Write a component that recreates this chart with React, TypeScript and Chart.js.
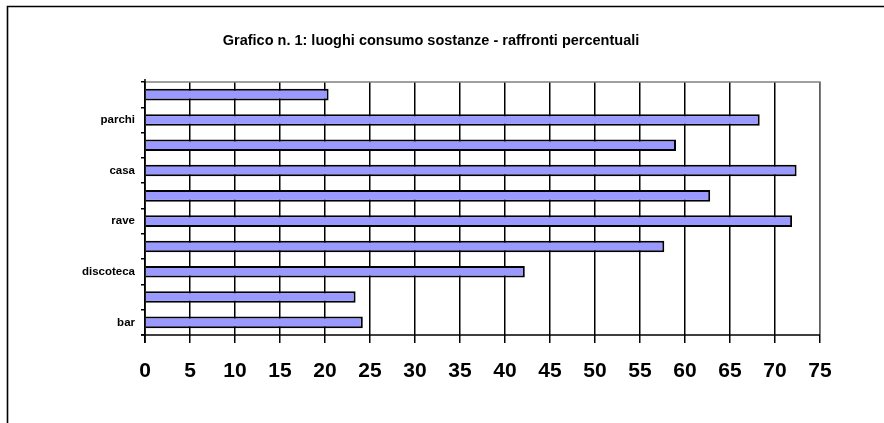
import React, { useEffect, useRef } from "react";
import { Chart, registerables } from "chart.js";

Chart.register(...registerables);

const categories = ["bar", "", "discoteca", "", "rave", "", "casa", "", "parchi", ""];
const values = [24.2, 23.4, 42.2, 57.7, 71.9, 62.8, 72.4, 59.0, 68.3, 20.4];
const titleText = "Grafico n. 1: luoghi consumo sostanze - raffronti percentuali";
const xMin = 0;
const xMax = 75;
const xStep = 5;

const W = 884;
const H = 423;
const PLOT_LEFT = 145;
const PLOT_RIGHT = 820;
const PLOT_TOP = 82;
const PLOT_BOTTOM = 335;

const decor = {
  id: "decor",
  beforeDraw(chart: any) {
    const ctx = chart.ctx;
    ctx.save();
    ctx.fillStyle = "#ffffff";
    ctx.fillRect(0, 0, W, H);
    ctx.strokeStyle = "#000";
    ctx.lineWidth = 1.6;
    ctx.beginPath();
    ctx.moveTo(7.5, H);
    ctx.lineTo(7.5, 6.5);
    ctx.lineTo(W, 6.5);
    ctx.stroke();
    ctx.fillStyle = "#000";
    ctx.font = "bold 14.5px 'Liberation Sans', Arial, sans-serif";
    ctx.textAlign = "center";
    ctx.textBaseline = "middle";
    ctx.fillText(titleText, 431, 41);
    ctx.restore();
  },
  afterDraw(chart: any) {
    const { ctx, chartArea } = chart;
    ctx.save();
    ctx.strokeStyle = "#808080";
    ctx.lineWidth = 1.5;
    ctx.beginPath();
    ctx.moveTo(chartArea.left, chartArea.top);
    ctx.lineTo(chartArea.right, chartArea.top);
    ctx.lineTo(chartArea.right, chartArea.bottom);
    ctx.stroke();
    ctx.strokeStyle = "#000";
    ctx.beginPath();
    ctx.moveTo(chartArea.left, chartArea.top - 3);
    ctx.lineTo(chartArea.left, chartArea.bottom + 8);
    ctx.moveTo(chartArea.left - 4, chartArea.bottom);
    ctx.lineTo(chartArea.right, chartArea.bottom);
    ctx.stroke();
    ctx.restore();
  },
};

export default function App() {
  const ref = useRef<HTMLCanvasElement>(null);
  useEffect(() => {
    document.body.style.margin = "0";
    const chart = new Chart(ref.current!, {
      type: "bar",
      data: {
        labels: categories,
        datasets: [
          {
            data: values,
            backgroundColor: "#9999ff",
            borderColor: "#000000",
            borderWidth: 2,
            barPercentage: 0.46,
            categoryPercentage: 1,
          },
        ],
      },
      options: {
        indexAxis: "y",
        responsive: false,
        animation: false,
        layout: {
          padding: { left: 0, top: PLOT_TOP, right: W - PLOT_RIGHT, bottom: 0 },
        },
        plugins: {
          legend: { display: false },
          title: { display: false },
          tooltip: { enabled: false },
        },
        scales: {
          x: {
            type: "linear",
            min: xMin,
            max: xMax,
            ticks: {
              stepSize: xStep,
              color: "#000",
              padding: 16,
              font: { family: "'Liberation Sans', Arial, sans-serif", size: 21, weight: "bold" },
            },
            grid: {
              color: "#000",
              lineWidth: 1.5,
              drawOnChartArea: true,
              drawTicks: true,
              tickLength: 8,
              tickColor: "#000",
            },
            border: { display: false },
            afterFit(s: any) {
              s.height = H - PLOT_BOTTOM;
            },
          },
          y: {
            type: "category",
            reverse: true,
            ticks: {
              color: "#000",
              padding: 6,
              autoSkip: false,
              font: { family: "'Liberation Sans', Arial, sans-serif", size: 11.5, weight: "bold" },
            },
            grid: {
              offset: true,
              drawOnChartArea: false,
              drawTicks: true,
              tickLength: 4,
              color: "#000",
              lineWidth: 1.5,
            },
            border: { display: false },
            afterFit(s: any) {
              s.width = PLOT_LEFT;
            },
          },
        },
      },
      plugins: [decor],
    });
    return () => chart.destroy();
  }, []);
  return (
    <div style={{ width: W, height: H }}>
      <canvas ref={ref} width={W} height={H} />
    </div>
  );
}
